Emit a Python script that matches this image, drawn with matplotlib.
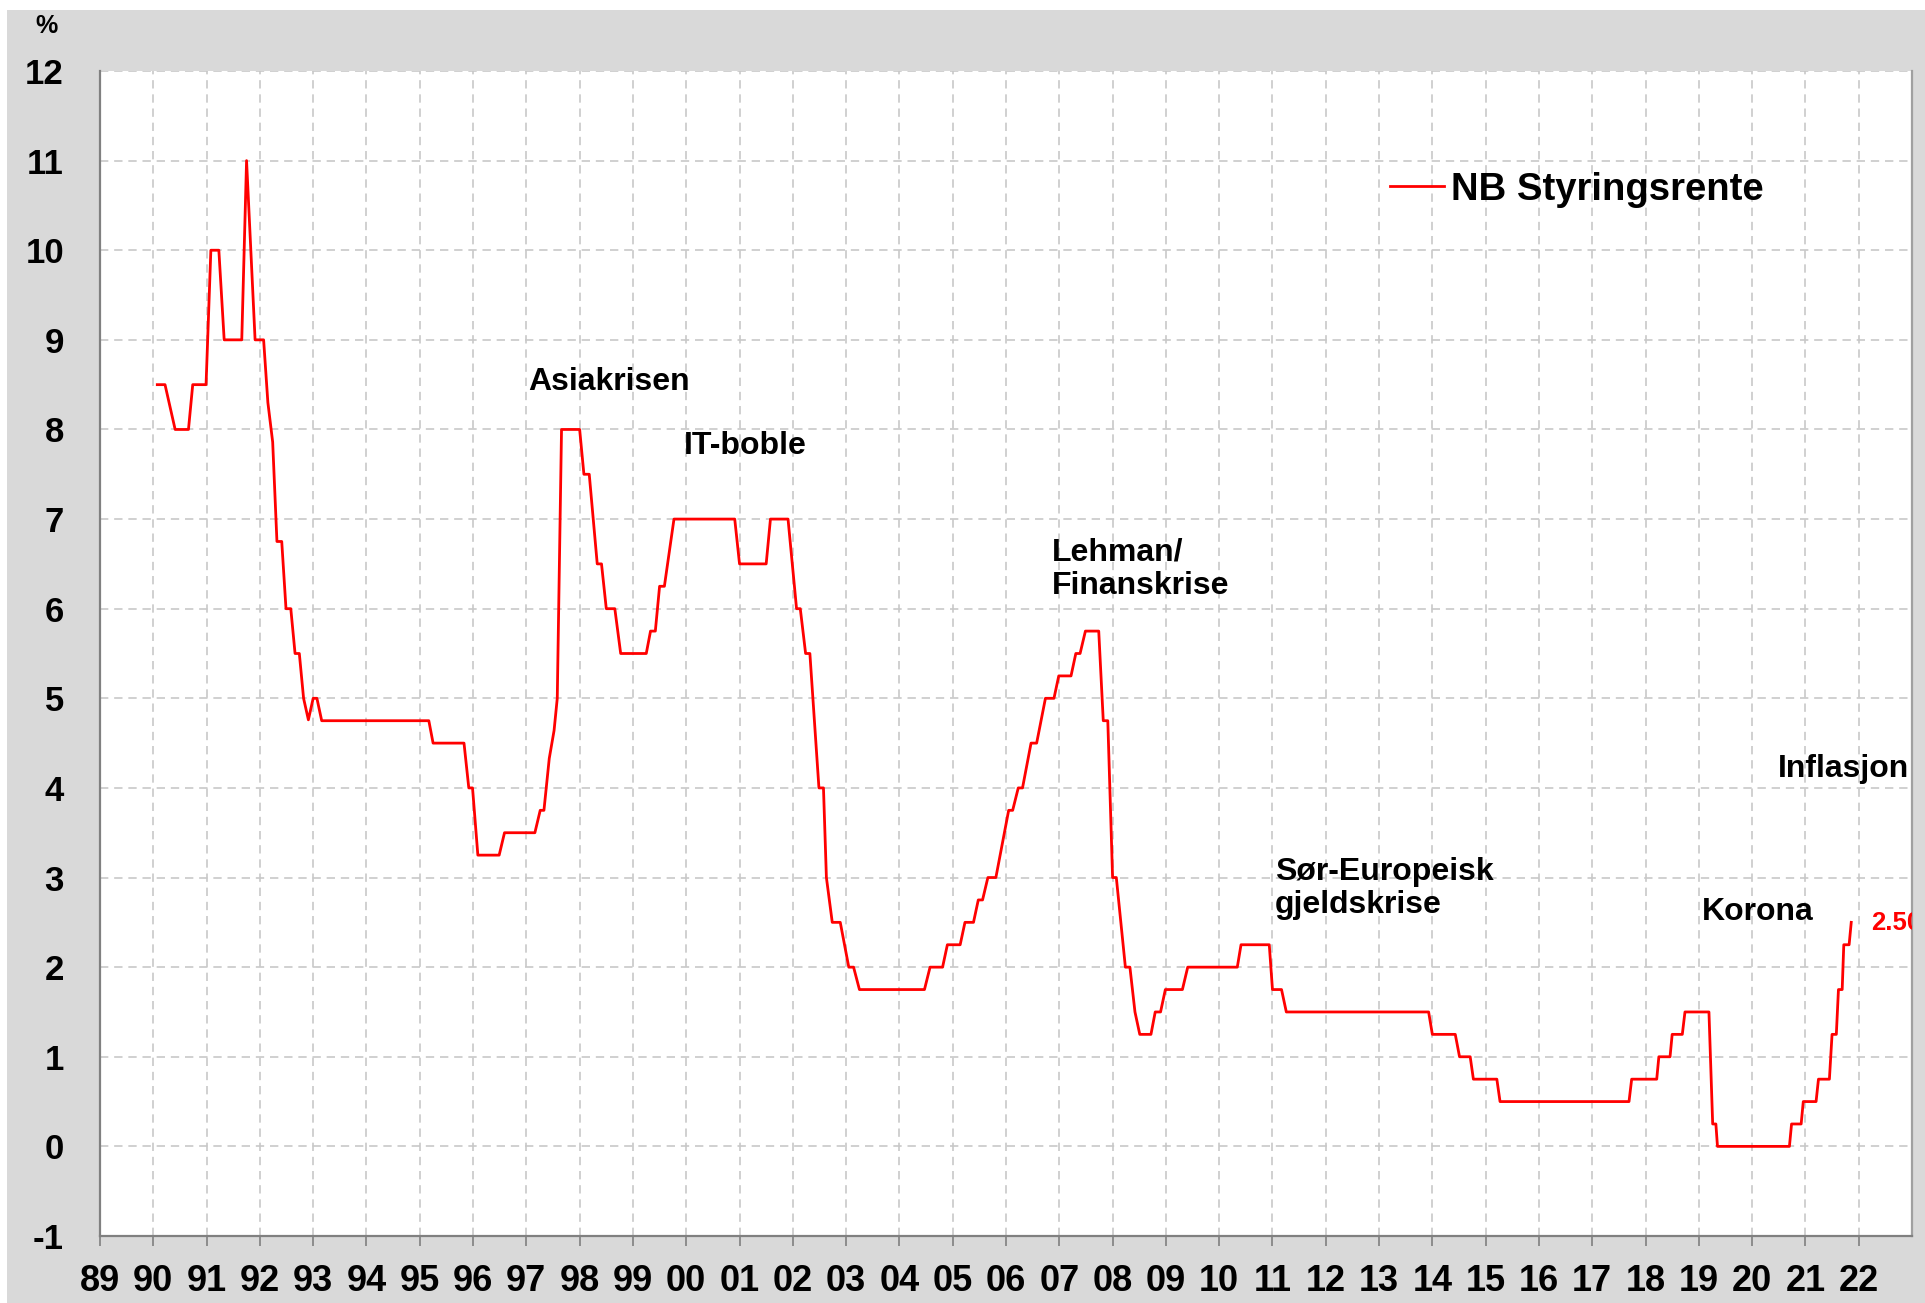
"""
Norges Bank styringsrente 1990-2022 with crisis annotations
"""

import matplotlib
matplotlib.use("Agg")
import matplotlib.pyplot as plt
from matplotlib.patches import Rectangle

# Data (decimal year, rate in %)
dates = [
    1990.075, 1990.22, 1990.41, 1990.66, 1990.74, 1990.99, 1991.08, 1991.23,
    1991.33, 1991.66, 1991.75, 1991.91, 1992.07, 1992.15, 1992.24, 1992.32,
    1992.41, 1992.49, 1992.58, 1992.66, 1992.74, 1992.82, 1992.91, 1993.0,
    1993.07, 1993.16, 1995.17, 1995.25, 1995.83, 1995.92, 1995.99, 1996.09,
    1996.49, 1996.59, 1997.16, 1997.26, 1997.33, 1997.43, 1997.52, 1997.58,
    1997.66, 1998.0, 1998.08, 1998.18, 1998.33, 1998.41, 1998.5, 1998.66,
    1998.77, 1999.25, 1999.33, 1999.42, 1999.5, 1999.59, 1999.77, 2000.91,
    2001.0, 2001.5, 2001.58, 2001.91, 2002.07, 2002.14, 2002.24, 2002.32,
    2002.49, 2002.575, 2002.63, 2002.74, 2002.89, 2003.05, 2003.14, 2003.25,
    2004.47, 2004.575, 2004.81, 2004.9, 2005.14, 2005.23, 2005.39, 2005.48,
    2005.56, 2005.66, 2005.81, 2006.05, 2006.125, 2006.23, 2006.31, 2006.47,
    2006.575, 2006.74, 2006.9, 2006.99, 2007.22, 2007.31, 2007.39, 2007.49,
    2007.74, 2007.825, 2007.91, 2008.0, 2008.07, 2008.24, 2008.325, 2008.42,
    2008.51, 2008.72, 2008.8, 2008.9, 2008.99, 2009.31, 2009.41, 2010.34,
    2010.41, 2010.94, 2011.0, 2011.17, 2011.26, 2013.93, 2014.0, 2014.43,
    2014.51, 2014.71, 2014.77, 2015.21, 2015.27, 2017.69, 2017.74, 2018.21,
    2018.25, 2018.46, 2018.5, 2018.69, 2018.74, 2019.19, 2019.26, 2019.32,
    2019.35, 2020.7, 2020.74, 2020.92, 2020.96, 2021.2, 2021.245, 2021.45,
    2021.5, 2021.58, 2021.62, 2021.69, 2021.72, 2021.82, 2021.86,
]
rates = [
    8.5, 8.5, 8.0, 8.0, 8.5, 8.5, 10.0, 10.0,
    9.0, 9.0, 11.0, 9.0, 9.0, 8.3, 7.86, 6.75,
    6.75, 6.0, 6.0, 5.5, 5.5, 5.0, 4.76, 5.0,
    5.0, 4.75, 4.75, 4.5, 4.5, 4.0, 4.0, 3.25,
    3.25, 3.5, 3.5, 3.75, 3.75, 4.33, 4.64, 5.0,
    8.0, 8.0, 7.5, 7.5, 6.5, 6.5, 6.0, 6.0,
    5.5, 5.5, 5.75, 5.75, 6.25, 6.25, 7.0, 7.0,
    6.5, 6.5, 7.0, 7.0, 6.0, 6.0, 5.5, 5.5,
    4.0, 4.0, 3.0, 2.5, 2.5, 2.0, 2.0, 1.75,
    1.75, 2.0, 2.0, 2.25, 2.25, 2.5, 2.5, 2.75,
    2.75, 3.0, 3.0, 3.75, 3.75, 4.0, 4.0, 4.5,
    4.5, 5.0, 5.0, 5.25, 5.25, 5.5, 5.5, 5.75,
    5.75, 4.75, 4.75, 3.0, 3.0, 2.0, 2.0, 1.5,
    1.25, 1.25, 1.5, 1.5, 1.75, 1.75, 2.0, 2.0,
    2.25, 2.25, 1.75, 1.75, 1.5, 1.5, 1.25, 1.25,
    1.0, 1.0, 0.75, 0.75, 0.5, 0.5, 0.75, 0.75,
    1.0, 1.0, 1.25, 1.25, 1.5, 1.5, 0.25, 0.25,
    0.0, 0.0, 0.25, 0.25, 0.5, 0.5, 0.75, 0.75,
    1.25, 1.25, 1.75, 1.75, 2.25, 2.25, 2.5,
]

years = list(range(1989, 2023))
year_labels = [f"{y % 100:02d}" for y in years]
y_ticks = list(range(-1, 13))

# Event annotations: text, x (year), y (%)
event_texts = ["Asiakrisen", "IT-boble", "Lehman/\nFinanskrise",
               "Sør-Europeisk\ngjeldskrise", "Korona", "Inflasjon"]
event_x = [1997.03, 1999.96, 2006.87, 2011.04, 2019.06, 2020.48]
event_y = [8.53, 7.82, 6.44, 2.88, 2.62, 4.21]

last_label = "2.50"

FONT = "Liberation Sans"
RED = "#ff0000"
GRID = "#c8c8c8"
SPINE = "#808080"

plt.rcParams["font.family"] = [FONT, "DejaVu Sans"]
plt.rcParams["font.weight"] = "bold"

fig = plt.figure(figsize=(19.25, 13.03), dpi=100, facecolor="white")
# gray chart-area background (small white margin top/left)
fig.patches.append(Rectangle((7 / 1925, 0), 1, 1 - 10 / 1303, transform=fig.transFigure,
                             facecolor="#d9d9d9", edgecolor="none", zorder=-10))

ax = fig.add_axes([100 / 1925, 1 - 1236 / 1303, 1812 / 1925, (1236 - 71) / 1303])
ax.set_facecolor("white")

ax.plot(dates, rates, color=RED, lw=2.0, label="NB Styringsrente", zorder=3)

ax.set_xlim(1989, 2023)
ax.set_ylim(-1, 12)
ax.set_xticks(years)
ax.set_xticklabels(year_labels)
ax.set_yticks(y_ticks)
ax.set_yticklabels([str(v) for v in y_ticks])

# Grid
ax.grid(True, color=GRID, lw=1.2, linestyle=(0, (5, 3.5)))
ax.set_axisbelow(True)

for side in ["left", "bottom"]:
    ax.spines[side].set_color(SPINE)
    ax.spines[side].set_linewidth(1.6)
ax.spines["right"].set_color("#a0a0a0")
ax.spines["right"].set_linewidth(1.6)
ax.spines["top"].set_visible(False)

ax.tick_params(axis="x", direction="out", length=7, width=1.2, color=SPINE,
               labelsize=26, pad=13)
ax.tick_params(axis="y", length=0, labelsize=25, pad=26)
for lbl in ax.get_xticklabels() + ax.get_yticklabels():
    lbl.set_fontweight("bold")

# Annotations
for txt, x, y in zip(event_texts, event_x, event_y):
    ax.text(x, y, txt, fontsize=23, fontweight="bold", ha="left", va="center",
            linespacing=1.15, color="black")

ax.text(2022.24, 2.49, last_label, fontsize=18.5, fontweight="bold", color=RED,
        ha="left", va="center", clip_on=True)

# Legend
ax.legend(loc="center left", bbox_to_anchor=(0.712, 0.898), frameon=False,
          prop={"family": FONT, "weight": "bold", "size": 27.5},
          handlelength=1.4, handletextpad=0.2, borderpad=0, borderaxespad=0)

fig.text(0.0244, 0.98, "%", fontsize=18, fontweight="bold", ha="center", va="center")

fig.savefig("out.png", dpi=100, facecolor=fig.get_facecolor())
